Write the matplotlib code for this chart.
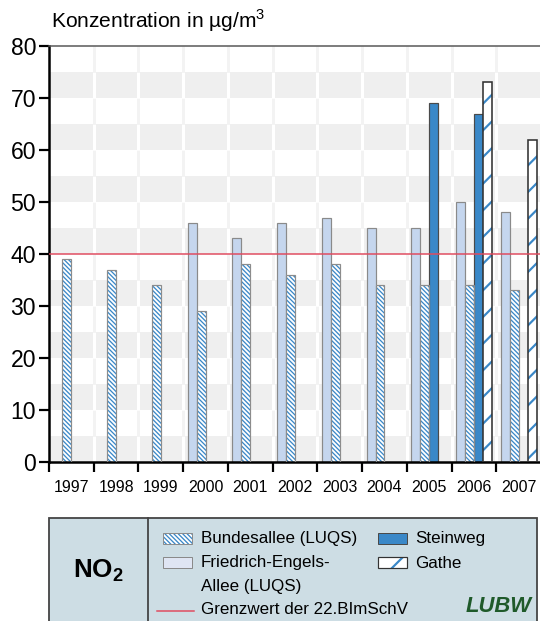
import numpy as np
import matplotlib
matplotlib.use('Agg')
import matplotlib.pyplot as plt
from matplotlib.patches import Rectangle

plt.rcParams['font.family'] = ['Liberation Sans', 'DejaVu Sans']
plt.rcParams['mathtext.fontset'] = 'custom'
plt.rcParams['mathtext.rm'] = 'Liberation Sans'
plt.rcParams['mathtext.bf'] = 'Liberation Sans:bold'
plt.rcParams['hatch.linewidth'] = 0.6

DPI = 160
W, H = 540, 621

# NO2 Jahresmittelwerte
years = ['1997', '1998', '1999', '2000', '2001', '2002', '2003', '2004', '2005', '2006', '2007']
nan = np.nan
bundesallee = np.array([39, 37, 34, 29, 38, 36, 38, 34, 34, 34, 33], dtype=float)
friedrich = np.array([nan, nan, nan, 46, 43, 46, 47, 45, 45, 50, 48], dtype=float)
steinweg = np.array([nan, nan, nan, nan, nan, nan, nan, nan, 69, 67, nan], dtype=float)
gathe = np.array([nan, nan, nan, nan, nan, nan, nan, nan, nan, 73, 62], dtype=float)
grenzwert = 40

BLUE = '#3a88c8'
LIGHT = '#c5d6ee'
BAND = '#efefef'
HATCH_BA = '\\' * 12
HATCH_GA = '//'


def px(v):
    # pixel -> points
    return v * 72.0 / DPI


def hatch_lw(patches, lw):
    for p in patches:
        if hasattr(p, 'set_hatch_linewidth'):
            p.set_hatch_linewidth(lw)


fig = plt.figure(figsize=(W / DPI, H / DPI), dpi=DPI)
ax = fig.add_axes([49 / W, (H - 462) / H, 492 / W, 416 / H])

n = len(years)
x = np.arange(n)

# background bands and grid
for k in range(16):
    lo, hi = k * 5, k * 5 + 5
    if k % 2 == 0:
        ax.axhspan(lo, hi, color=BAND, lw=0, zorder=0)
        ax.vlines(x[1:], lo, hi, colors='white', lw=px(3), zorder=0.5)
    else:
        ax.vlines(x[1:], lo, hi, colors='#f3f3f3', lw=px(3), zorder=0.5)

bw = 0.2


def hatched(xs, vals, hatch, edge, lw, hlw):
    m = ~np.isnan(vals)
    b = ax.bar(xs[m], vals[m], width=bw, color='white', edgecolor=BLUE,
               hatch=hatch, linewidth=0, zorder=2)
    hatch_lw(b, hlw)
    ax.bar(xs[m], vals[m], width=bw, fill=False, edgecolor=edge,
           linewidth=lw, zorder=3)


m = ~np.isnan(friedrich)
ax.bar(x[m] + 0.2, friedrich[m], width=bw, color=LIGHT, edgecolor='#8a8a8a',
       linewidth=px(1.2), zorder=2)
hatched(x + 0.4, bundesallee, HATCH_BA, '#8c8c8c', px(1.2), px(1.3))
m = ~np.isnan(steinweg)
ax.bar(x[m] + 0.6, steinweg[m], width=bw, color=BLUE, edgecolor='#4a4a4a',
       linewidth=px(1.2), zorder=2)
hatched(x + 0.8, gathe, HATCH_GA, '#333333', px(1.6), px(2.2))

ax.axhline(grenzwert, color='#e04a5e', lw=px(1.5), zorder=4)

ax.set_xlim(0, n)
ax.set_ylim(0, 80)
ax.set_yticks(np.arange(0, 81, 10))
ax.set_xticks(x)
ax.set_xticklabels([])
ax.set_xticks(x + 0.5, minor=True)
ax.set_xticklabels(years, minor=True, fontsize=px(16))
ax.tick_params(axis='x', which='major', direction='out', length=px(10),
               width=px(2.2), color='black')
ax.tick_params(axis='x', which='minor', length=0, pad=px(18))
ax.tick_params(axis='y', direction='out', length=px(10), width=px(2.2),
               labelsize=px(23), pad=px(3))
for s in ['left', 'bottom']:
    ax.spines[s].set_linewidth(px(2.5))
    ax.spines[s].set_color('black')
ax.spines['top'].set_color('#555555')
ax.spines['top'].set_linewidth(px(1.5))
ax.spines['right'].set_visible(False)

fig.text(51 / W, 1 - 21 / H, r'Konzentration in µg/m$^3$', fontsize=px(21),
         ha='left', va='center')

# legend box
lg = fig.add_axes([0, 0, 1, 1], zorder=5)
lg.set_xlim(0, W)
lg.set_ylim(H, 0)
lg.axis('off')
lg.add_patch(Rectangle((49, 518), 488, 110, facecolor='#cddde4',
                       edgecolor='#444444', lw=px(1.8)))
lg.plot([148, 148], [518, 621], color='#444444', lw=px(1.8))
lg.text(98, 571, r'$\mathbf{NO}_\mathbf{2}$', fontsize=px(26), ha='center', va='center')

fs = px(17)
p = lg.add_patch(Rectangle((163, 533), 29, 11, facecolor='white', edgecolor=BLUE,
                           hatch=HATCH_BA, lw=0))
hatch_lw([p], px(1.3))
lg.add_patch(Rectangle((163, 533), 29, 11, fill=False, edgecolor='#8c8c8c', lw=px(1)))
lg.text(201, 539, 'Bundesallee (LUQS)', fontsize=fs, va='center')

lg.add_patch(Rectangle((163, 557), 29, 11, facecolor='#dfe5f3', edgecolor='#8a8a8a', lw=px(1)))
lg.text(201, 563, 'Friedrich-Engels-', fontsize=fs, va='center')
lg.text(201, 587, 'Allee (LUQS)', fontsize=fs, va='center')

lg.plot([157, 194], [611, 611], color='#e04a5e', lw=px(1.5))
lg.text(201, 610, 'Grenzwert der 22.BImSchV', fontsize=fs, va='center')

lg.add_patch(Rectangle((378, 533), 29, 11, facecolor=BLUE, edgecolor='#4a4a4a', lw=px(1)))
lg.text(415, 539, 'Steinweg', fontsize=fs, va='center')

p = lg.add_patch(Rectangle((378, 557), 29, 11, facecolor='white', edgecolor=BLUE,
                           hatch=HATCH_GA, lw=0))
hatch_lw([p], px(2.2))
lg.add_patch(Rectangle((378, 557), 29, 11, fill=False, edgecolor='#333333', lw=px(1.2)))
lg.text(415, 563, 'Gathe', fontsize=fs, va='center')

lg.text(499, 606, 'LUBW', fontsize=px(22), fontweight='bold', style='italic',
        color='#1f5a2a', ha='center', va='center')

fig.savefig('out.png', dpi=DPI)
